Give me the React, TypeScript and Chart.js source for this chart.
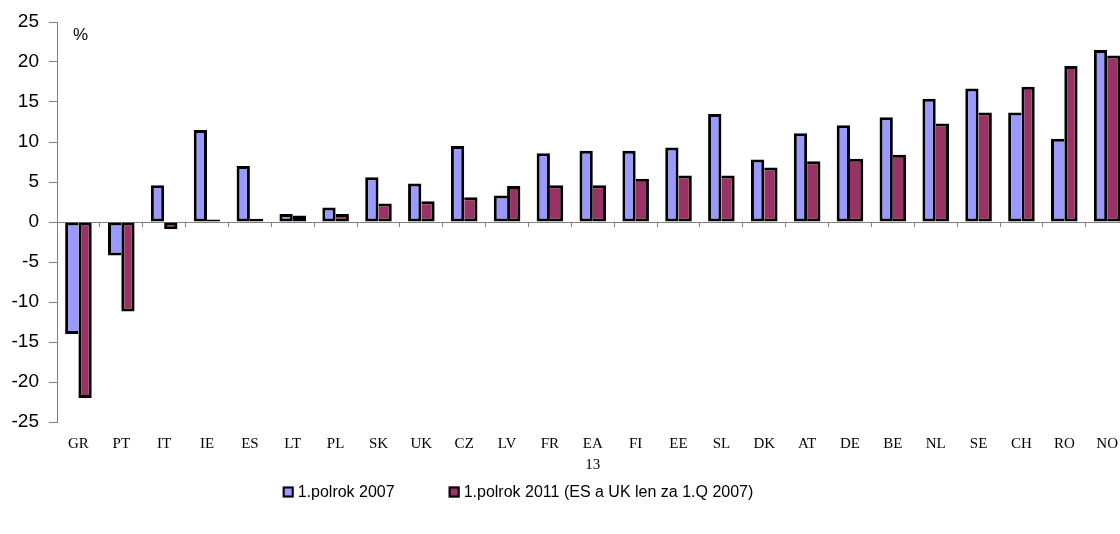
import { useEffect, useRef } from 'react';
import { Chart, registerables } from 'chart.js';

Chart.register(...registerables);

// Country codes along the category axis (EA 13 wraps onto two lines)
const categories: (string | string[])[] = [
  'GR', 'PT', 'IT', 'IE', 'ES', 'LT', 'PL', 'SK', 'UK', 'CZ', 'LV', 'FR',
  ['EA', '13'], 'FI', 'EE', 'SL', 'DK', 'AT', 'DE', 'BE', 'NL', 'SE', 'CH', 'RO', 'NO',
];

const seriesLabels = ['1.polrok 2007', '1.polrok 2011 (ES a UK len za 1.Q 2007)'];

// Change in %, first half of 2007
const firstHalf2007 = [
  -14.0, -4.2, 4.6, 11.5, 7.0, 1.0, 1.8, 5.6, 4.8, 9.5, 3.3, 8.6,
  8.9, 8.9, 9.3, 13.5, 7.8, 11.1, 12.1, 13.1, 15.4, 16.7, 13.7, 10.4, 21.5,
];

// Change in %, first half of 2011
const firstHalf2011 = [
  -22.0, -11.2, -0.9, 0.3, 0.4, 0.8, 1.0, 2.3, 2.6, 3.1, 4.5, 4.6,
  4.6, 5.4, 5.8, 5.8, 6.8, 7.6, 7.9, 8.4, 12.3, 13.7, 16.9, 19.5, 20.8,
];

const yMin = -25;
const yMax = 25;
const yStep = 5;
const unitText = '%';

const seriesColors = ['#9999FF', '#993366'];
const SANS = '"Liberation Sans", Arial, Helvetica, sans-serif';
const SERIF = '"Liberation Serif", "Times New Roman", Times, serif';

// Adjacent bars share one outline: the shorter bar drops the side the taller one already draws
const sameSide = (a: number, b: number) => (a >= 0 && b >= 0) || (a < 0 && b < 0);
const skipFirst = (ctx: any) => {
  const i = ctx.dataIndex;
  const a = firstHalf2007[i];
  const b = firstHalf2011[i];
  return sameSide(a, b) && Math.abs(b) >= Math.abs(a) ? 'right' : false;
};
const skipSecond = (ctx: any) => {
  const i = ctx.dataIndex;
  const a = firstHalf2007[i];
  const b = firstHalf2011[i];
  return sameSide(a, b) && Math.abs(a) > Math.abs(b) ? 'left' : false;
};

// "%" unit marker in the upper-left corner of the plot
const unitLabelPlugin = {
  id: 'unitLabel',
  afterDraw(chart: Chart) {
    const { ctx, chartArea, scales } = chart;
    ctx.save();
    ctx.font = `17px ${SANS}`;
    ctx.fillStyle = '#000';
    ctx.textAlign = 'left';
    ctx.textBaseline = 'middle';
    ctx.fillText(unitText, chartArea.left + 16, scales.y.getPixelForValue(23.3));
    ctx.restore();
  },
};

// Legend row below the axis: small bordered swatch followed by the series name
const swatchLegendPlugin = {
  id: 'swatchLegend',
  afterDraw(chart: Chart) {
    const { ctx } = chart;
    const box = 11;
    const textGap = 4;
    const itemGap = 54;
    const centerX = 518;
    const centerY = 492;
    ctx.save();
    ctx.font = `16px ${SANS}`;
    const items = chart.data.datasets.map((ds: any) => ({
      text: ds.label as string,
      fill: ds.backgroundColor as string,
      width: box + textGap + ctx.measureText(ds.label as string).width,
    }));
    const total = items.reduce((s, it) => s + it.width, 0) + itemGap * (items.length - 1);
    let x = centerX - total / 2;
    items.forEach((it) => {
      ctx.fillStyle = it.fill;
      ctx.fillRect(x, centerY - box / 2, box, box);
      ctx.strokeStyle = '#000';
      ctx.lineWidth = 2;
      ctx.strokeRect(x + 1, centerY - box / 2 + 1, box - 2, box - 2);
      ctx.fillStyle = '#000';
      ctx.textAlign = 'left';
      ctx.textBaseline = 'middle';
      ctx.fillText(it.text, x + box + textGap, centerY + 1);
      x += it.width + itemGap;
    });
    ctx.restore();
  },
};

export default function App() {
  const canvasRef = useRef<HTMLCanvasElement>(null);

  useEffect(() => {
    if (!canvasRef.current) return;
    const chart = new Chart(canvasRef.current, {
      type: 'bar',
      data: {
        labels: categories,
        datasets: [
          {
            label: seriesLabels[0],
            data: firstHalf2007,
            backgroundColor: seriesColors[0],
            borderColor: '#000',
            borderWidth: 3,
            borderSkipped: skipFirst,
            categoryPercentage: 0.62,
            barPercentage: 1.0,
            xAxisID: 'x',
            yAxisID: 'y',
          },
          {
            label: seriesLabels[1],
            data: firstHalf2011,
            backgroundColor: seriesColors[1],
            borderColor: '#000',
            borderWidth: 3,
            borderSkipped: skipSecond,
            categoryPercentage: 0.62,
            barPercentage: 1.0,
            xAxisID: 'x',
            yAxisID: 'y',
          },
        ],
      } as any,
      options: {
        responsive: false,
        animation: false,
        devicePixelRatio: 1,
        layout: { padding: { top: 22, right: 0, bottom: 52, left: 0 } },
        plugins: {
          legend: { display: false },
          tooltip: { enabled: false },
        },
        scales: {
          x: {
            type: 'category',
            position: 'bottom',
            grid: { display: false, drawTicks: false },
            border: { display: false },
            ticks: {
              color: '#000',
              font: { family: SERIF, size: 15, lineHeight: 1.4 },
              padding: 12,
              maxRotation: 0,
              autoSkip: false,
            },
            afterFit: (scale: any) => {
              scale.height = 60;
            },
          },
          xZero: {
            type: 'category',
            position: { y: 0 },
            grid: {
              offset: true,
              drawOnChartArea: false,
              tickLength: 5,
              color: '#808080',
              tickColor: '#808080',
            },
            border: { display: false },
            ticks: { display: false },
          },
          y: {
            type: 'linear',
            min: yMin,
            max: yMax,
            ticks: {
              stepSize: yStep,
              color: '#000',
              font: { family: SANS, size: 19 },
              padding: 10,
            },
            grid: {
              color: (ctx: any) => (ctx.tick && ctx.tick.value === 0 ? '#808080' : 'rgba(0,0,0,0)'),
              tickColor: '#808080',
              tickLength: 8,
            },
            border: { color: '#808080', width: 1 },
            afterFit: (scale: any) => {
              scale.width = 57;
            },
          },
        },
      } as any,
      plugins: [unitLabelPlugin, swatchLegendPlugin],
    });
    return () => chart.destroy();
  }, []);

  return (
    <div
      style={{
        position: 'fixed',
        left: 0,
        top: 0,
        width: 1120,
        height: 534,
        overflow: 'hidden',
        background: '#fff',
      }}
    >
      <canvas ref={canvasRef} width={1130} height={534} style={{ width: 1130, height: 534, display: 'block' }} />
    </div>
  );
}
